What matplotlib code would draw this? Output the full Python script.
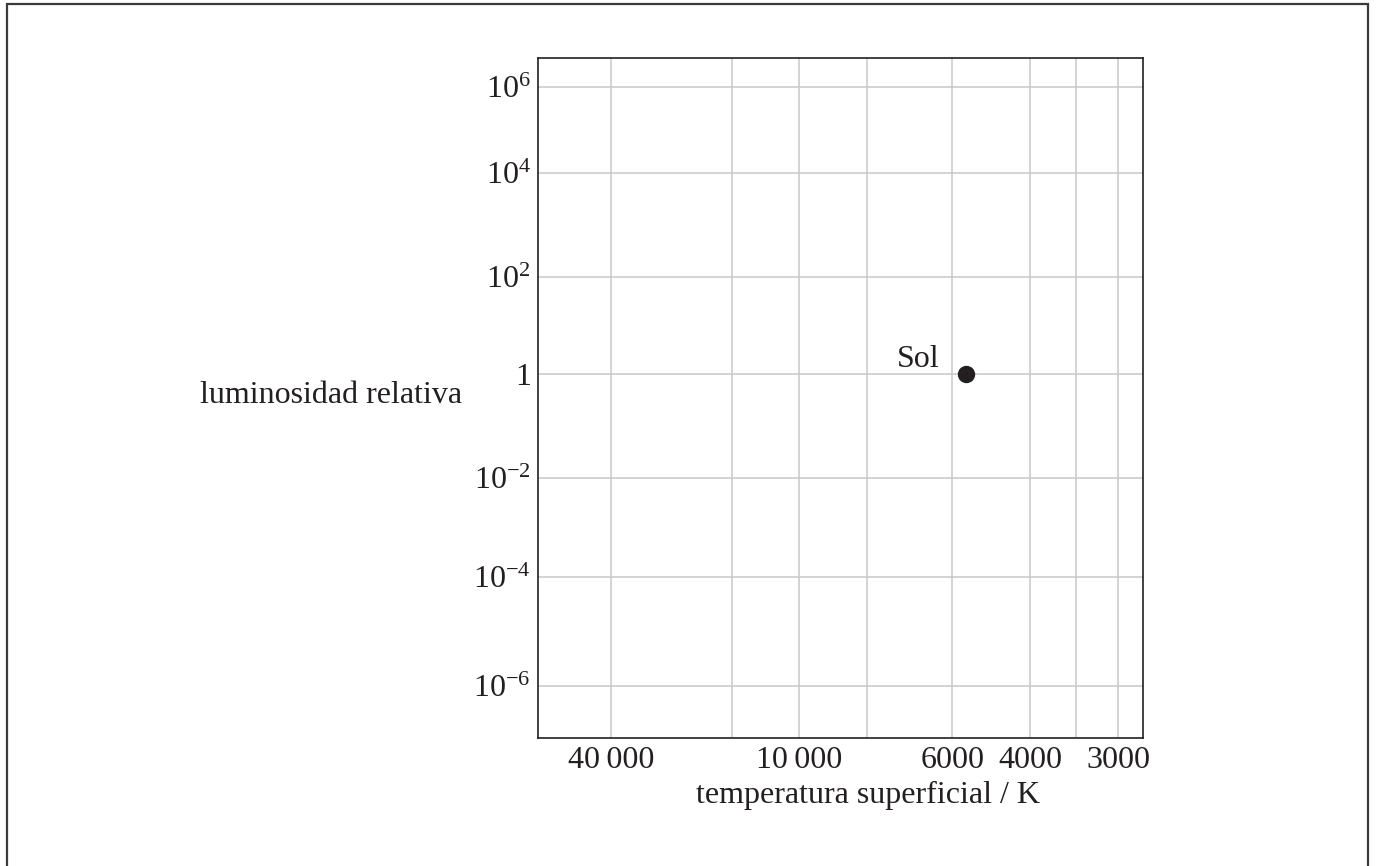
import numpy as np
import matplotlib
matplotlib.use("Agg")
import matplotlib.pyplot as plt
from matplotlib.patches import Rectangle

plt.rcParams['font.family'] = ['Liberation Serif', 'DejaVu Serif']
plt.rcParams['mathtext.fontset'] = 'custom'
plt.rcParams['mathtext.rm'] = 'Liberation Serif'
plt.rcParams['mathtext.it'] = 'Liberation Serif:italic'

INK = '#231f20'

# --- data ---
temp_grid = [40000, 20000, 10000, 7500, 6000, 4000, 3500, 3000]
temp_ticks = [40000, 10000, 6000, 4000, 3000]
temp_labels = ['40\u2009000', '10\u2009000', '6000', '4000', '3000']
lum_ticks = [1e6, 1e4, 1e2, 1, 1e-2, 1e-4, 1e-6]
lum_labels = ['$10^{6}$', '$10^{4}$', '$10^{2}$', '1', '$10^{-2}$', '$10^{-4}$', '$10^{-6}$']
sun_temp = [5600]
sun_lum = [1]
sun_name = 'Sol'

# the printed diagram is schematic: axes are not evenly logarithmic,
# so the scale is piecewise log, pinned where the grid lines sit
# (x: fraction of axes width counted from the right, y: from the bottom)
x_grid_frac = [0.8788, 0.6793, 0.5686, 0.4562, 0.3147, 0.1858, 0.1103, 0.0403]
y_grid_frac = [0.9562, 0.8307, 0.6774, 0.5349, 0.3825, 0.2366, 0.0769]


def piecewise_log(vals, frac):
    lv = np.log10(np.asarray(vals, float))
    p = np.asarray(frac, float)
    o = np.argsort(lv)
    lv, p = lv[o], p[o]

    def extrap(x, xp, fp):
        x = np.asarray(x, float)
        out = np.interp(x, xp, fp)
        s0 = (fp[1] - fp[0]) / (xp[1] - xp[0])
        s1 = (fp[-1] - fp[-2]) / (xp[-1] - xp[-2])
        out = np.where(x < xp[0], fp[0] + (x - xp[0]) * s0, out)
        out = np.where(x > xp[-1], fp[-1] + (x - xp[-1]) * s1, out)
        return out

    def fwd(v):
        return extrap(np.log10(np.clip(v, 1e-300, None)), lv, p)

    def inv(u):
        return 10 ** extrap(u, p, lv)

    return fwd, inv


fig = plt.figure(figsize=(13.76, 8.66), dpi=100)
ax = fig.add_axes([537.7 / 1376, 1 - 738 / 866, 605 / 1376, 680.5 / 866])

xf, xi = piecewise_log(temp_grid, x_grid_frac)
yf, yi = piecewise_log(lum_ticks, y_grid_frac)
ax.set_xscale('function', functions=(xf, xi))
ax.set_yscale('function', functions=(yf, yi))
ax.set_xlim(float(xi(1.0)), float(xi(0.0)))  # hot stars on the left
ax.set_ylim(float(yi(0.0)), float(yi(1.0)))

ax.set_xticks(temp_grid)
ax.set_xticklabels([temp_labels[temp_ticks.index(t)] if t in temp_ticks else '' for t in temp_grid])
ax.set_yticks(lum_ticks)
ax.set_yticklabels(lum_labels)
ax.minorticks_off()
ax.tick_params(length=0, labelsize=23, colors=INK)
ax.tick_params(axis='x', pad=6)
ax.tick_params(axis='y', pad=5)
ax.grid(True, color='#c8c8c8', lw=1.1)
ax.set_axisbelow(True)
for s in ax.spines.values():
    s.set_color(INK)
    s.set_linewidth(1.2)

ax.plot(sun_temp, sun_lum, 'o', ms=11.5, color=INK, zorder=3)
ax.annotate(sun_name, (sun_temp[0], sun_lum[0]), xytext=(-19, 5), textcoords='offset points',
            ha='right', va='baseline', fontsize=23, color=INK)

ax.set_xlabel('temperatura superficial / K', fontsize=23, color=INK, va='baseline')
ax.xaxis.set_label_coords(0.546, -0.096)
ax.set_ylabel('luminosidad relativa', fontsize=23, color=INK, rotation=0, ha='right', va='baseline')
ax.yaxis.set_label_coords(-0.125, 0.493)

# border around the whole figure (open at the bottom edge)
fig.patches.append(Rectangle((6.5 / 1376, -0.05), (1368 - 6.5) / 1376, 1.05 - 4.5 / 866,
                             transform=fig.transFigure, fill=False, ec='#3a3a3a', lw=1.6))

fig.savefig('out.png', dpi=100)
